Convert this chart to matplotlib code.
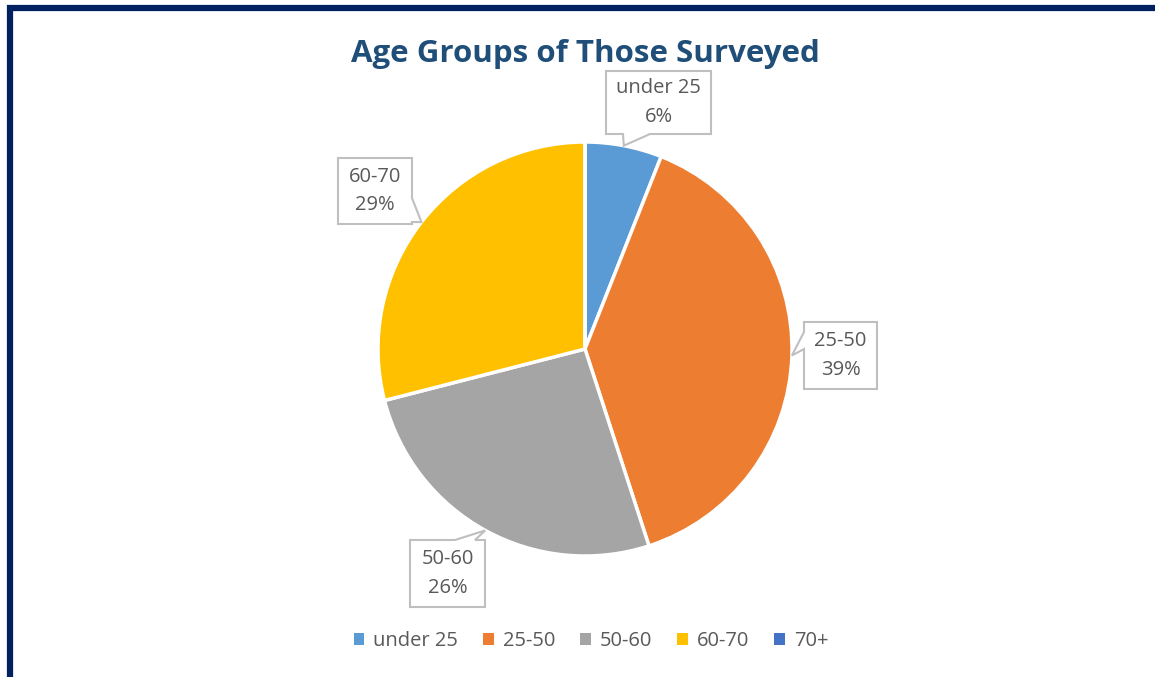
import numpy as np
import matplotlib
matplotlib.use("Agg")
import matplotlib.pyplot as plt
from matplotlib.patches import Polygon, Rectangle

plt.rcParams['font.family'] = ['Open Sans', 'DejaVu Sans']

# data
categories = ["under 25", "25-50", "50-60", "60-70", "70+"]
values = [6, 39, 26, 29, 0]
colors = ["#5B9BD5", "#ED7D31", "#A5A5A5", "#FFC000", "#4472C4"]

W, H = 1155, 677
fig = plt.figure(figsize=(W / 100, H / 100), dpi=100)
ax = fig.add_axes([0, 0, 1, 1])

cx, cy, r = 585, 328, 207
wedges, _ = ax.pie(values, colors=colors, startangle=90, counterclock=False,
                   center=(cx, cy), radius=r, frame=True,
                   wedgeprops=dict(edgecolor="white", linewidth=2.5))
ax.set_xlim(0, W)
ax.set_ylim(0, H)
ax.axis("off")

# callout boxes: (x0, y0, x1, y1), side of pointer, pointer base along side
callouts = {
    "under 25": ((606, 543, 711, 606), "bottom", (623, 650)),
    "25-50":    ((804, 288, 877, 355), "left",   (328, 345)),
    "50-60":    ((410, 70, 485, 137),  "top",    (455, 475)),
    "60-70":    ((338, 453, 412, 519), "right",  (455, 479)),
}

total = sum(values)
start = 90.0
for cat, v in zip(categories, values):
    ang = start - v / total * 360 / 2
    start -= v / total * 360
    if cat not in callouts:
        continue
    (x0, y0, x1, y1), side, (a, b) = callouts[cat]
    tip = (cx + r * np.cos(np.radians(ang)), cy + r * np.sin(np.radians(ang)))
    # walk counterclockwise around the box, inserting the pointer
    pts = [(x0, y0)]
    if side == "bottom":
        pts += [(a, y0), tip, (b, y0)]
    pts.append((x1, y0))
    if side == "right":
        pts += [(x1, a), tip, (x1, b)]
    pts.append((x1, y1))
    if side == "top":
        pts += [(b, y1), tip, (a, y1)]
    pts.append((x0, y1))
    if side == "left":
        pts += [(x0, b), tip, (x0, a)]
    ax.add_patch(Polygon(pts, closed=True, facecolor="white",
                         edgecolor="#BFBFBF", linewidth=1.5, zorder=5))
    ax.text((x0 + x1) / 2, (y0 + y1) / 2, f"{cat}\n{v / total * 100:.0f}%",
            ha="center", va="center", fontsize=14.5, color="#595959",
            linespacing=1.55, zorder=6)

ax.text(585, 623, "Age Groups of Those Surveyed", ha="center", va="center",
        fontsize=22.5, fontweight="bold", color="#1F4E79")

leg = ax.legend(wedges, categories, loc="center", bbox_to_anchor=(591 / W, 36 / H),
                ncol=5, frameon=False, fontsize=14.5, handlelength=0.52,
                handleheight=0.52, handletextpad=0.45, columnspacing=1.25,
                labelcolor="#595959")
for h in leg.legend_handles:
    h.set_edgecolor("none")

# navy frame (right and bottom edges fall outside the picture)
ax.add_patch(Rectangle((9.5, -50), W + 50, H - 8 + 50, fill=False,
                       edgecolor="#002060", linewidth=4.5, clip_on=False, zorder=10))

fig.savefig("out.png", dpi=100)
